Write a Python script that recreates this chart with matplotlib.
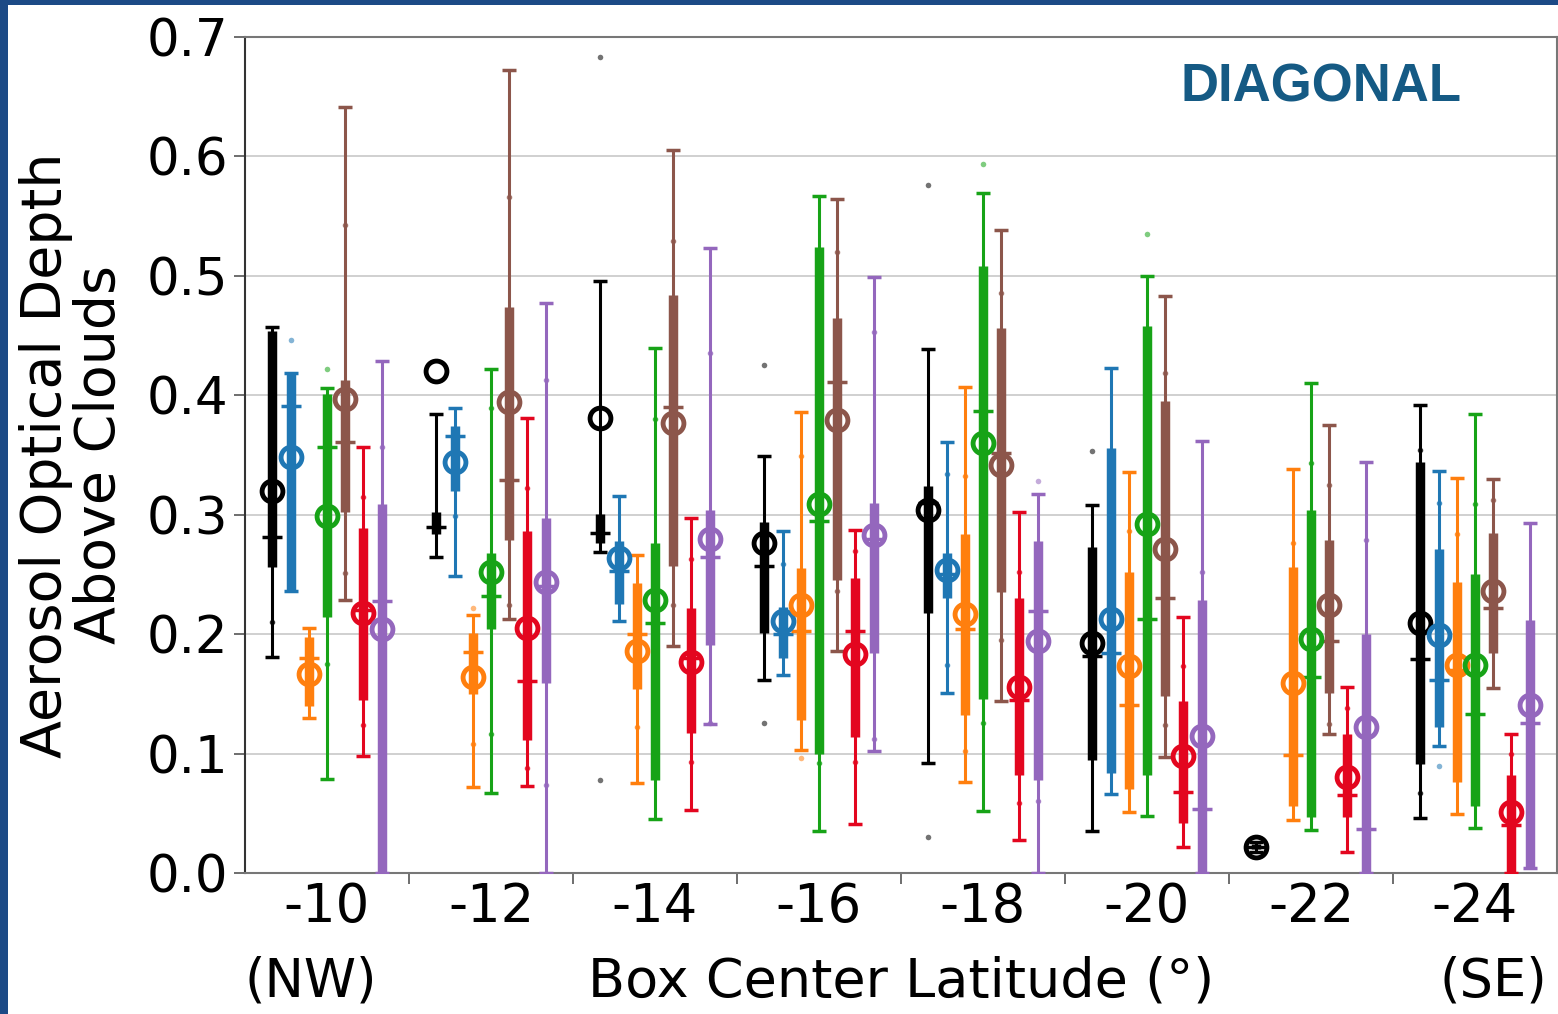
import matplotlib
matplotlib.use('Agg')

import matplotlib.pyplot as plt
import matplotlib.transforms as mtransforms
from matplotlib.patches import Rectangle
import numpy as np

plt.rcParams['font.family'] = ['DejaVu Sans']

nan = np.nan

# latitude boxes along the diagonal transect
latitudes = ['-10', '-12', '-14', '-16', '-18', '-20', '-22', '-24']
colors = ['#000000', '#1f77b4', '#ff7f0e', '#17a317', '#8c564b', '#e3061f', '#9467bd']

# one row per series, one column per latitude box
whisk_lo = [
    [0.181, 0.265, 0.269, 0.162, 0.092, 0.035, 0.018, 0.046],
    [0.236, 0.249, 0.211, 0.166, 0.151, 0.066, nan, 0.106],
    [0.130, 0.072, 0.075, 0.103, 0.076, 0.051, 0.044, 0.049],
    [0.079, 0.067, 0.045, 0.035, 0.052, 0.048, 0.036, 0.038],
    [0.229, 0.213, 0.190, 0.186, 0.144, 0.097, 0.116, 0.155],
    [0.098, 0.073, 0.053, 0.041, 0.028, 0.022, 0.018, 0.000],
    [0.000, 0.000, 0.125, 0.102, 0.000, 0.000, 0.000, 0.004],
]
whisk_hi = [
    [0.457, 0.384, 0.496, 0.349, 0.439, 0.308, 0.026, 0.392],
    [0.419, 0.389, 0.316, 0.286, 0.361, 0.423, nan, 0.337],
    [0.205, 0.216, 0.266, 0.386, 0.407, 0.336, 0.338, 0.331],
    [0.406, 0.422, 0.440, 0.567, 0.569, 0.500, 0.410, 0.384],
    [0.641, 0.672, 0.605, 0.564, 0.538, 0.483, 0.375, 0.330],
    [0.357, 0.381, 0.297, 0.287, 0.302, 0.214, 0.156, 0.116],
    [0.429, 0.477, 0.523, 0.499, 0.317, 0.362, 0.344, 0.293],
]
q1 = [
    [0.256, 0.284, 0.276, 0.201, 0.218, 0.095, 0.020, 0.091],
    [0.236, 0.320, 0.225, 0.180, 0.230, 0.084, nan, 0.122],
    [0.140, 0.150, 0.154, 0.128, 0.132, 0.070, 0.056, 0.076],
    [0.214, 0.204, 0.078, 0.100, 0.146, 0.082, 0.047, 0.056],
    [0.302, 0.279, 0.257, 0.245, 0.235, 0.148, 0.151, 0.184],
    [0.145, 0.111, 0.117, 0.114, 0.082, 0.042, 0.047, 0.000],
    [0.000, 0.159, 0.191, 0.184, 0.078, 0.000, 0.000, 0.004],
]
q3 = [
    [0.454, 0.302, 0.301, 0.294, 0.324, 0.273, 0.024, 0.344],
    [0.419, 0.374, 0.278, 0.223, 0.268, 0.356, nan, 0.271],
    [0.198, 0.201, 0.243, 0.255, 0.284, 0.252, 0.256, 0.244],
    [0.401, 0.268, 0.276, 0.524, 0.508, 0.458, 0.304, 0.250],
    [0.413, 0.474, 0.484, 0.465, 0.456, 0.395, 0.279, 0.285],
    [0.289, 0.286, 0.222, 0.247, 0.230, 0.144, 0.116, 0.082],
    [0.309, 0.297, 0.304, 0.310, 0.278, 0.229, 0.200, 0.212],
]
medians = [
    [0.281, 0.290, 0.285, 0.257, 0.310, 0.182, 0.022, 0.179],
    [0.391, 0.366, 0.253, 0.200, 0.250, 0.184, nan, 0.162],
    [0.180, 0.185, 0.200, 0.203, 0.204, 0.141, 0.099, 0.170],
    [0.357, 0.232, 0.209, 0.295, 0.387, 0.213, 0.164, 0.133],
    [0.361, 0.329, 0.390, 0.411, 0.352, 0.230, 0.194, 0.222],
    [0.220, 0.161, 0.180, 0.203, 0.145, 0.068, 0.065, 0.040],
    [0.228, 0.240, 0.265, 0.280, 0.219, 0.054, 0.037, 0.126],
]
means = [
    [0.320, 0.420, 0.381, 0.276, 0.304, 0.193, 0.022, 0.209],
    [0.348, 0.344, 0.264, 0.211, 0.254, 0.213, nan, 0.199],
    [0.167, 0.164, 0.186, 0.224, 0.217, 0.173, 0.159, 0.174],
    [0.299, 0.252, 0.229, 0.309, 0.360, 0.292, 0.196, 0.174],
    [0.397, 0.394, 0.377, 0.379, 0.342, 0.271, 0.224, 0.236],
    [0.218, 0.205, 0.177, 0.183, 0.156, 0.098, 0.080, 0.051],
    [0.204, 0.244, 0.280, 0.283, 0.194, 0.115, 0.122, 0.141],
]
p10 = [
    [0.210, nan, nan, nan, nan, nan, nan, 0.067],
    [nan, 0.299, nan, nan, 0.174, nan, nan, nan],
    [nan, 0.108, 0.122, nan, 0.102, nan, nan, nan],
    [0.175, 0.116, nan, 0.092, 0.126, nan, nan, nan],
    [0.251, 0.224, 0.224, 0.236, 0.195, 0.124, 0.125, nan],
    [0.124, 0.088, 0.093, 0.093, 0.059, nan, nan, nan],
    [nan, 0.074, 0.126, 0.112, 0.060, nan, nan, nan],
]
p90 = [
    [nan, nan, nan, nan, nan, nan, nan, 0.354],
    [nan, nan, nan, 0.259, 0.334, nan, nan, 0.310],
    [nan, nan, nan, 0.349, 0.332, 0.286, 0.276, 0.284],
    [nan, 0.389, 0.380, nan, nan, nan, 0.343, 0.309],
    [0.543, 0.566, 0.529, 0.520, 0.486, 0.419, 0.325, 0.312],
    [0.315, 0.322, 0.263, 0.270, 0.252, 0.173, 0.138, 0.100],
    [0.357, 0.413, 0.435, 0.453, nan, 0.252, 0.279, nan],
]

# points beyond the whiskers
outlier_series = [0, 0, 0, 0, 0, 0, 0, 1, 1, 2, 2, 3, 3, 3, 6]
outlier_group = [2, 2, 3, 3, 4, 4, 5, 0, 7, 1, 3, 0, 4, 5, 4]
outlier_value = [0.683, 0.078, 0.425, 0.126, 0.576, 0.030, 0.353, 0.446, 0.090,
                 0.222, 0.096, 0.422, 0.594, 0.535, 0.328]

n_series = len(colors)
spacing = 0.111

fig = plt.figure(figsize=(15.58, 10.14), dpi=100)
fig.patch.set_facecolor('white')

# slide frame around the plot
fig.patches.append(Rectangle((0, 0), 8 / 1558, 1, transform=fig.transFigure,
                             facecolor='#1c4a86', edgecolor='none', zorder=0))
fig.patches.append(Rectangle((0, 1 - 5 / 1014), 1, 5 / 1014, transform=fig.transFigure,
                             facecolor='#1c4a86', edgecolor='none', zorder=0))

ax = fig.add_axes([245 / 1558, 141 / 1014, 1312 / 1558, 836 / 1014])

x_base = np.arange(len(latitudes))
for s in range(n_series):
    c = colors[s]
    xs = x_base + (s - 3) * spacing
    lo = np.array(whisk_lo[s])
    hi = np.array(whisk_hi[s])
    ax.vlines(xs, lo, hi, color=c, lw=2.2, zorder=3)
    ax.vlines(xs, q1[s], q3[s], color=c, lw=6.8, zorder=3)
    ax.plot(xs, lo, ls='none', marker='_', ms=10, mew=2.5, color=c, zorder=3)
    ax.plot(xs, hi, ls='none', marker='_', ms=10, mew=2.5, color=c, zorder=3)
    ax.plot(xs, p10[s], ls='none', marker='o', ms=3, color=c, alpha=0.7, zorder=3)
    ax.plot(xs, p90[s], ls='none', marker='o', ms=3, color=c, alpha=0.7, zorder=3)
    ax.plot(xs, medians[s], ls='none', marker='_', ms=15, mew=2.5, color=c, zorder=4)
    ax.plot(xs, means[s], ls='none', marker='o', ms=15, mew=3.5, mfc='none',
            mec=c, zorder=5)

for s, g, v in zip(outlier_series, outlier_group, outlier_value):
    ax.plot(g + (s - 3) * spacing, v, ls='none', marker='o', ms=4,
            color=colors[s], alpha=0.55, mec='none', zorder=2)

ax.set_xlim(-0.5, len(latitudes) - 0.5)
ax.set_ylim(0, 0.7)
ax.set_yticks(np.arange(0, 0.71, 0.1))
ax.set_yticklabels([f'{v:.1f}' for v in np.arange(0, 0.71, 0.1)])
ax.yaxis.grid(True, color='#c8c8c8', lw=1.2)
ax.set_axisbelow(True)

# separators between boxes, labels at box centres
ax.set_xticks(np.arange(0.5, len(latitudes) - 0.5, 1))
ax.set_xticklabels([])
ax.set_xticks(x_base, minor=True)
ax.set_xticklabels(latitudes, minor=True)
ax.tick_params(axis='x', which='minor', length=0, pad=6, labelsize=38)
ax.tick_params(axis='x', which='major', length=8, width=1.2, color='#555555')
ax.tick_params(axis='y', length=8, width=1.2, color='#555555', labelsize=37, pad=4)

for sp in ax.spines.values():
    sp.set_color('#777777')
    sp.set_linewidth(1.5)
ax.spines['left'].set_color('#333333')

trans = mtransforms.blended_transform_factory(ax.transData, ax.transAxes)
ax.text(-0.1, -0.13, '(NW)', transform=trans, ha='center', va='center', fontsize=38)
ax.text(7.11, -0.13, '(SE)', transform=trans, ha='center', va='center', fontsize=38)
ax.text(3.5, -0.13, 'Box Center Latitude (°)', transform=trans, ha='center',
        va='center', fontsize=39)

fig.text(73 / 1558, 1 - 455 / 1014, 'Aerosol Optical Depth\nAbove Clouds', rotation=90,
         ha='center', va='center', fontsize=40, linespacing=1.0)

ax.text(0.82, 0.94, 'DIAGONAL', transform=ax.transAxes, ha='center', va='center',
        fontsize=38, fontweight='bold', color='#155a84',
        family=['Liberation Sans', 'DejaVu Sans'])

fig.savefig('out.png', dpi=100, facecolor=fig.get_facecolor())
